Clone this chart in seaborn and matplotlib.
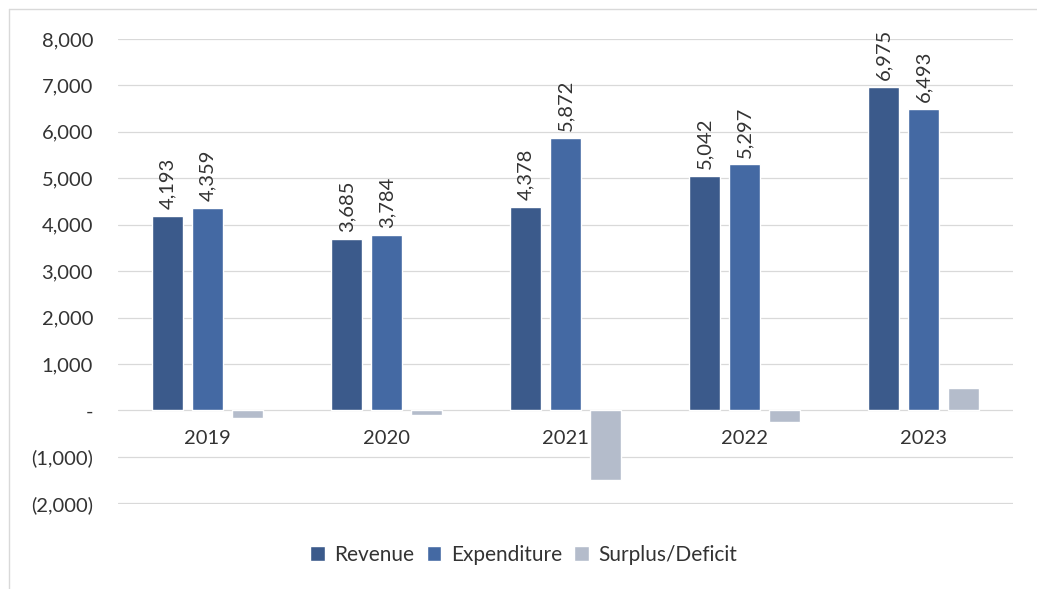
import matplotlib
matplotlib.use("Agg")
import matplotlib.pyplot as plt
import matplotlib.ticker as mticker
from matplotlib.lines import Line2D
import seaborn as sns
import pandas as pd

# Fiscal figures by year
years = ["2019", "2020", "2021", "2022", "2023"]
revenue = [4193, 3685, 4378, 5042, 6975]
expenditure = [4359, 3784, 5872, 5297, 6493]
surplus_deficit = [-166, -99, -1494, -255, 482]
series_names = ["Revenue", "Expenditure", "Surplus/Deficit"]
y_ticks = [-2000, -1000, 0, 1000, 2000, 3000, 4000, 5000, 6000, 7000, 8000]

rows = []
for name, vals in zip(series_names, [revenue, expenditure, surplus_deficit]):
    for yr, v in zip(years, vals):
        rows.append({"Year": yr, "Value": v, "Series": name})
df = pd.DataFrame(rows)

sns.set_theme(style="white")
plt.rcParams["font.family"] = ["Lato", "DejaVu Sans"]

text_color = "#333333"
grid_color = "#d9d9d9"
palette = ["#3b5a8b", "#4469a3", "#b4bccb"]

fig = plt.figure(figsize=(10.37, 5.89), dpi=100)
ax = fig.add_axes([0.1138, 0.144, 0.8631, 0.7898])

sns.barplot(data=df, x="Year", y="Value", hue="Series", order=years,
            hue_order=series_names, palette=palette, saturation=1,
            width=0.67, gap=0.21, errorbar=None, ax=ax)

ax.set_xlim(-0.5, len(years) - 0.5)
ax.set_ylim(y_ticks[0] - 20, y_ticks[-1])
ax.set_yticks(y_ticks)


def acct(v, _pos=None):
    if v == 0:
        return "-"
    if v < 0:
        return f"({abs(v):,.0f})"
    return f"{v:,.0f}"


ax.yaxis.set_major_formatter(mticker.FuncFormatter(acct))
ax.grid(axis="y", color=grid_color, linewidth=0.9)
ax.set_axisbelow(True)
for s in ax.spines.values():
    s.set_visible(False)
ax.spines["bottom"].set_position(("data", 0))
ax.tick_params(axis="both", length=0, labelsize=14.5, colors=text_color)
ax.tick_params(axis="y", pad=18)
ax.tick_params(axis="x", pad=14)
ax.set_xlabel("")
ax.set_ylabel("")

# Value labels on revenue and expenditure bars
for cont, vals in zip(ax.containers[:2], [revenue, expenditure]):
    ax.bar_label(cont, labels=[f"{v:,}" for v in vals], rotation=90,
                 padding=5, fontsize=14.5, color=text_color)

leg = ax.get_legend()
handles, labels = ax.get_legend_handles_labels()
leg.remove()
fig.legend(handles, labels, loc="center", bbox_to_anchor=(0.505, 0.058),
           ncol=3, frameon=False, fontsize=15, handlelength=0.7,
           handleheight=0.7, handletextpad=0.45, columnspacing=0.6,
           labelcolor=text_color)

# Chart-area frame (top and left edges)
fig.add_artist(Line2D([9 / 1037, 1.0], [1 - 9 / 589, 1 - 9 / 589],
                      transform=fig.transFigure, color="#d9d9d9", lw=1))
fig.add_artist(Line2D([9 / 1037, 9 / 1037], [0.0, 1 - 9 / 589],
                      transform=fig.transFigure, color="#d9d9d9", lw=1))

fig.savefig("out.png", dpi=100, facecolor="white")
